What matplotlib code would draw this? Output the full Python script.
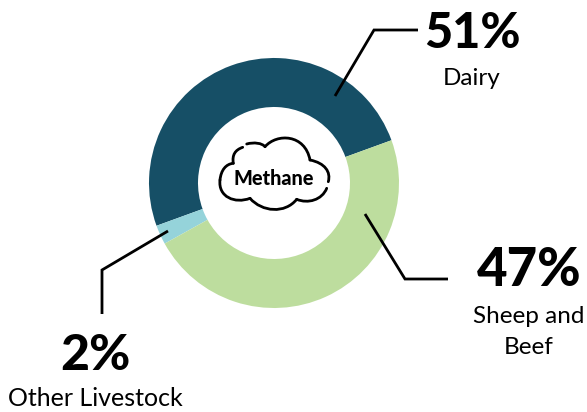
import matplotlib
matplotlib.use("Agg")
import matplotlib.pyplot as plt
from matplotlib.path import Path
from matplotlib.patches import PathPatch

# shares as the ring actually draws them (a bit off the printed numbers)
categories = ["Dairy", "Other Livestock", "Sheep and\nBeef"]
drawn_shares = [50, 2.5, 47.5]
percent_labels = ["51%", "2%", "47%"]
colors = ["#164f66", "#95d3da", "#bddd9e"]

W, H = 587, 412
plt.rcParams["font.family"] = ["Lato", "DejaVu Sans"]

fig = plt.figure(figsize=(W / 100, H / 100), dpi=100)
ax = fig.add_axes([0, 0, 1, 1])


def flip(pts):
    # picture coords to axes coords
    return [(x, H - y) for x, y in pts]


ax.pie(drawn_shares, colors=colors, startangle=20, counterclock=True,
       center=(274, H - 183), radius=125,
       wedgeprops=dict(width=49, linewidth=0), frame=True)
ax.set_xlim(0, W)
ax.set_ylim(0, H)
ax.set_aspect("equal")
ax.axis("off")

# leader lines
leaders = [
    [(335, 96), (374, 30), (418, 30)],
    [(168, 231), (102, 270), (102, 314)],
    [(365, 214), (405, 279), (448, 279)],
]
for pts in leaders:
    xs, ys = zip(*flip(pts))
    ax.plot(xs, ys, color="black", lw=2.0, solid_capstyle="butt", solid_joinstyle="miter")

# big percentages and their names
ax.text(472, H - 33, percent_labels[0], ha="center", va="center",
        fontsize=35, fontweight="black", color="black")
ax.text(472, H - 78, categories[0], ha="center", va="center", fontsize=17.5, color="black")

ax.text(95, H - 355, percent_labels[1], ha="center", va="center",
        fontsize=36, fontweight="black", color="black")
ax.text(95, H - 398, categories[1], ha="center", va="center", fontsize=18, color="black")

ax.text(529, H - 270, percent_labels[2], ha="center", va="center",
        fontsize=38, fontweight="black", color="black")
ax.text(529, H - 332, categories[2], ha="center", va="center", fontsize=17.5,
        color="black", linespacing=1.55)

# cloud outline
lobes = [
    [(246.7, 144), (254, 142), (262, 143), (265, 146.7)],
    [(265, 146.7), (277, 133), (305, 134), (310, 160)],
    [(310, 160), (325, 163), (331, 172), (328.3, 181.7)],
    [(326.7, 188.3), (322, 200), (308, 204), (296.7, 199.3)],
    [(296.7, 199.3), (285, 214), (262, 212), (250, 198.3)],
    [(250, 198.3), (235, 204), (218, 197), (220, 180)],
    [(220, 180), (221, 170), (226, 164), (233.3, 163.3)],
    [(233.3, 163.3), (232, 155), (235, 150), (242.7, 147.3)],
]
for seg in lobes:
    p = Path(flip(seg), [Path.MOVETO, Path.CURVE4, Path.CURVE4, Path.CURVE4])
    ax.add_patch(PathPatch(p, fill=False, edgecolor="black", lw=2.0, capstyle="round"))

ax.text(274, H - 178, "Methane", ha="center", va="center", fontsize=14.3,
        fontweight="black", color="black")

fig.savefig("out.png", dpi=100)
